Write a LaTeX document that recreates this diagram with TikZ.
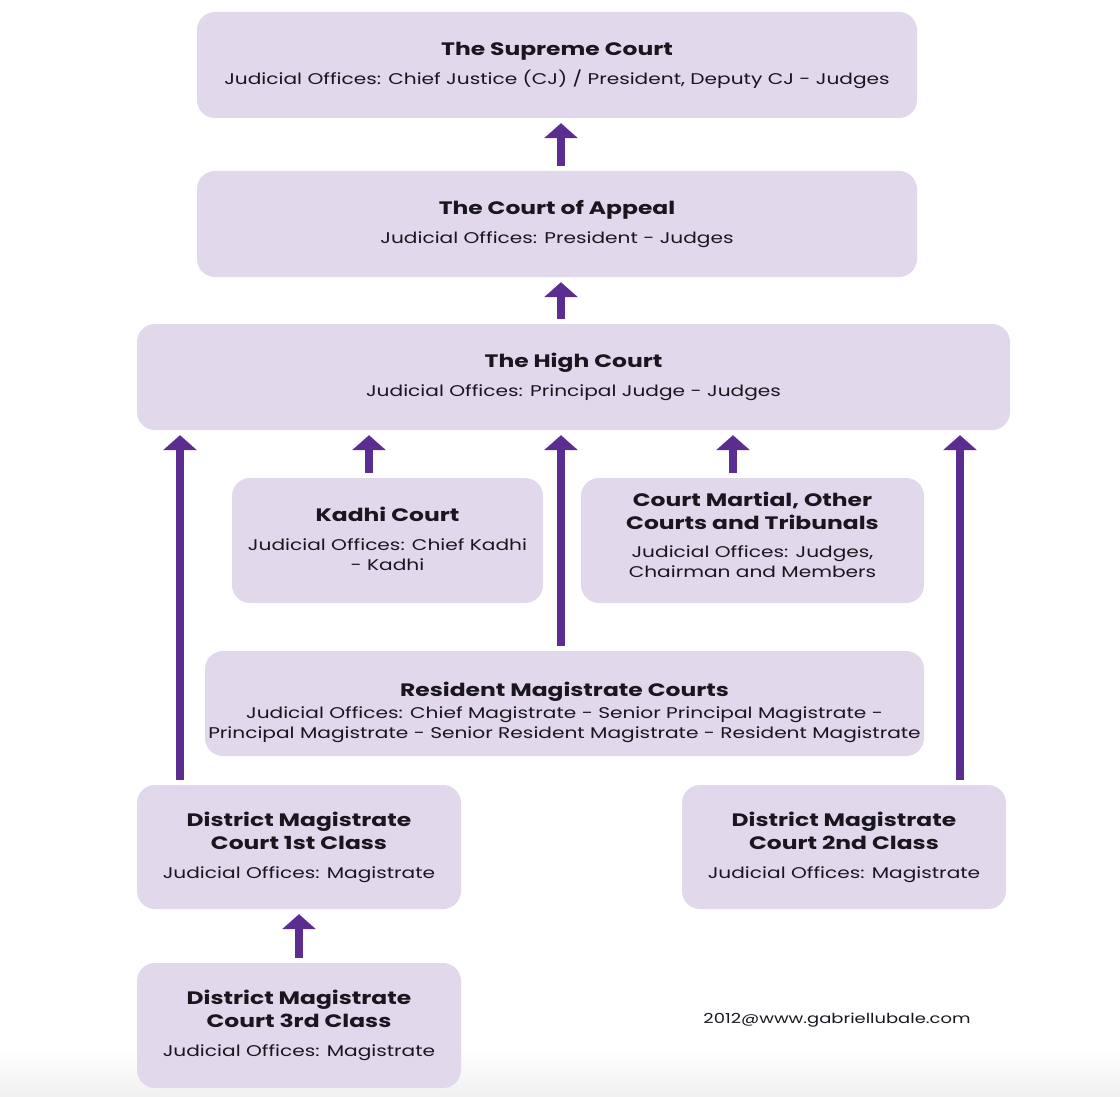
\documentclass[tikz,border=0pt]{standalone}
\usepackage{fontspec}
\setmainfont{Poppins}[FakeStretch=1.3]
\usetikzlibrary{arrows.meta}
\definecolor{courtfill}{RGB}{225,216,235}
\definecolor{arrowc}{RGB}{92,45,145}
\definecolor{textc}{RGB}{25,22,30}
\newcommand{\ttl}[1]{{\fontsize{18}{23}\selectfont\bfseries #1}}
\tikzset{
  court/.style={fill=courtfill, rounded corners=18pt, align=center, inner sep=0pt, text=textc, font=\fontsize{15.5}{20}\selectfont},
  up/.style={draw=arrowc, line width=8pt, -{Triangle[width=33pt,length=15pt]}, shorten <=5pt, shorten >=5pt}
}
\begin{document}
\begin{tikzpicture}[x=1pt,y=-1pt]
\useasboundingbox (0,0) rectangle (1120,1097);
\shade[top color=white, bottom color=gray!12] (0,1050) rectangle (1120,1097);

\node[court, minimum width=720pt, minimum height=106pt] (supreme) at (557,65) {\ttl{The Supreme Court}\\[9pt] Judicial Offices: Chief Justice (CJ) / President, Deputy CJ - Judges};
\node[court, minimum width=720pt, minimum height=106pt] (appeal) at (557,224) {\ttl{The Court of Appeal}\\[9pt] Judicial Offices: President - Judges};
\node[court, minimum width=873pt, minimum height=106pt] (high) at (573.5,377) {\ttl{The High Court}\\[9pt] Judicial Offices: Principal Judge - Judges};
\node[court, minimum width=311pt, minimum height=125pt] (kadhi) at (387.5,540.5) {\ttl{Kadhi Court}\\[9pt] Judicial Offices: Chief Kadhi\\- Kadhi\\[-16pt]};
\node[court, minimum width=343pt, minimum height=125pt] (martial) at (752.5,540.5) {\ttl{Court Martial, Other}\\[3pt] \ttl{Courts and Tribunals}\\[8pt] Judicial Offices: Judges,\\Chairman and Members\\[-8pt]};
\node[court, minimum width=719pt, minimum height=105pt] (resident) at (564.5,703.5) {\ttl{Resident Magistrate Courts}\\[2pt] Judicial Offices: Chief Magistrate - Senior Principal Magistrate -\\Principal Magistrate - Senior Resident Magistrate - Resident Magistrate\\[-34pt]};
\node[court, minimum width=324pt, minimum height=124pt] (dist1) at (299,847) {\ttl{District Magistrate}\\[3pt] \ttl{Court 1st Class}\\[9pt] Judicial Offices: Magistrate};
\node[court, minimum width=324pt, minimum height=124pt] (dist2) at (844,847) {\ttl{District Magistrate}\\[3pt] \ttl{Court 2nd Class}\\[9pt] Judicial Offices: Magistrate};
\node[court, minimum width=324pt, minimum height=125pt] (dist3) at (299,1025.5) {\ttl{District Magistrate}\\[3pt] \ttl{Court 3rd Class}\\[9pt] Judicial Offices: Magistrate};
\node[text=textc, font=\fontsize{13.8}{16}\selectfont] (credit) at (837,1020) {2012@www.gabriellubale.com};

\draw[up] ([xshift=4pt]appeal.north) -- ([xshift=4pt]supreme.south);
\draw[up] ([xshift=4pt]appeal.south |- high.north) -- ([xshift=4pt]appeal.south);
\draw[up] ([xshift=-18.5pt]kadhi.north) -- ([xshift=-18.5pt]kadhi.north |- high.south);
\draw[up] ([xshift=-19.5pt]martial.north) -- ([xshift=-19.5pt]martial.north |- high.south);
\draw[up] ([xshift=-3.5pt]resident.north) -- ([xshift=-3.5pt]resident.north |- high.south);
\draw[up] ([xshift=-119pt]dist1.north) -- ([xshift=-119pt]dist1.north |- high.south);
\draw[up] ([xshift=116pt]dist2.north) -- ([xshift=116pt]dist2.north |- high.south);
\draw[up] (dist3.north) -- (dist1.south);
\end{tikzpicture}
\end{document}
